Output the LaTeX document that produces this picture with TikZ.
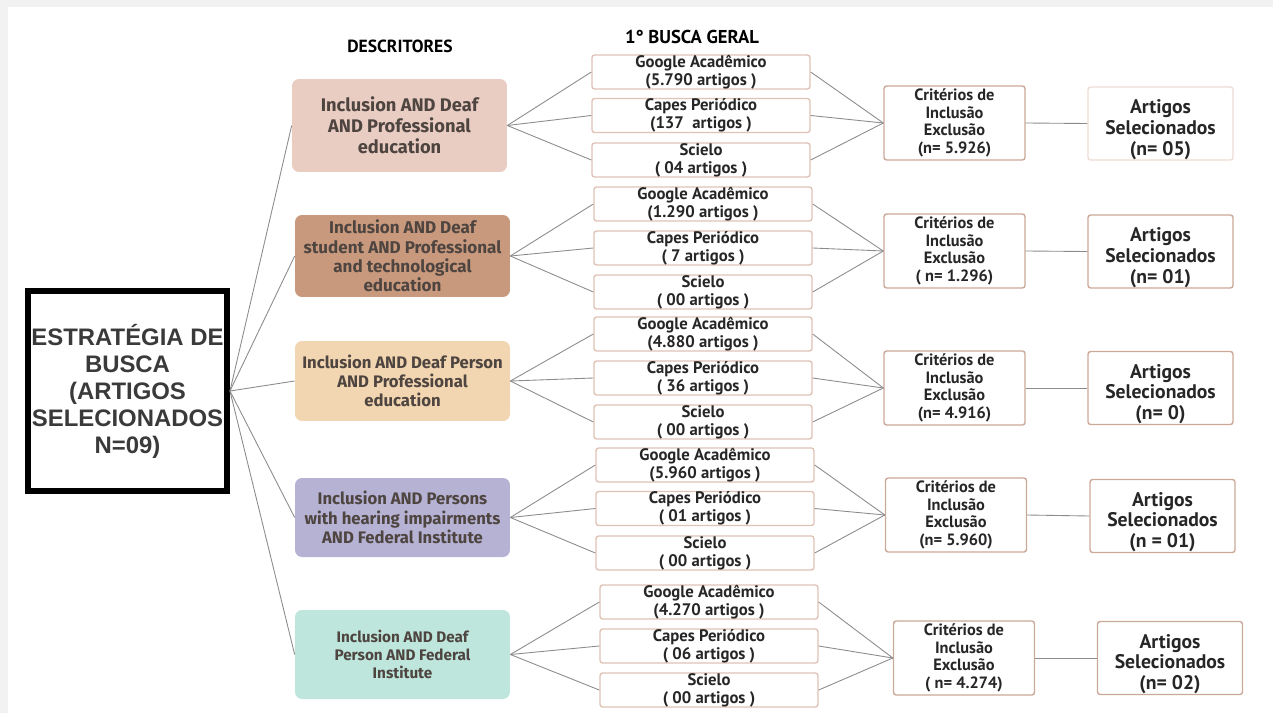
\documentclass[tikz,border=0pt]{standalone}
\usepackage{fontspec}
\setmainfont{Fira Sans}
\newfontfamily\boxfont{PT Sans}
\newfontfamily\capafont{Liberation Sans}

\definecolor{fundo}{RGB}{242,242,242}
\definecolor{linha}{RGB}{140,140,140}
\definecolor{borda}{RGB}{224,194,183}
\definecolor{bordacrit}{RGB}{203,168,152}
\definecolor{descA}{RGB}{233,205,194}
\definecolor{descB}{RGB}{201,153,126}
\definecolor{descC}{RGB}{242,214,177}
\definecolor{descD}{RGB}{181,178,212}
\definecolor{descE}{RGB}{190,230,220}
\definecolor{textodesc}{RGB}{78,68,64}
\definecolor{textocapa}{RGB}{58,58,58}

\begin{document}
\begin{tikzpicture}[x=0.02cm, y=-0.02cm,
    base/.style={draw=borda, line width=0.8pt, fill=white, rounded corners=1.5pt,
      align=center, inner sep=0pt, text=black!85},
    fonte/.style={base, minimum width=4.36cm, minimum height=0.68cm,
      font=\boxfont\bfseries\fontsize{9.5}{10.2}\selectfont},
    crit/.style={base, draw=bordacrit, minimum width=2.82cm, minimum height=1.48cm,
      font=\boxfont\bfseries\fontsize{9.3}{10.1}\selectfont},
    artigo/.style={base, draw=bordacrit, minimum width=2.9cm, minimum height=1.46cm},
    textoart/.style={align=center, inner sep=0pt, text=black!85,
      font=\boxfont\bfseries\fontsize{11.2}{11.7}\selectfont},
    desc/.style={rounded corners=4pt, align=center, inner sep=0pt,
      minimum width=4.3cm, text=textodesc},
    liga/.style={draw=linha, line width=0.5pt}]

  % fundo e moldura
  \fill[fundo] (0,0) rectangle (1273,713);
  \fill[white] (8,7) rectangle (1273,713);

  % caixa principal
  \node[draw=black, line width=3.4pt, minimum width=3.98cm, minimum height=4cm,
    inner sep=0pt, align=center, text=textocapa,
    font=\capafont\bfseries\fontsize{13.6}{15.4}\selectfont]
    (capa) at (127.5,391) {ESTRATÉGIA DE\\BUSCA\\(ARTIGOS\\SELECIONADOS\\N=09)};

  % titulos das colunas
  \node[font=\boxfont\bfseries\fontsize{10}{12}\selectfont] (titdesc) at (400,46) {DESCRITORES};
  \node[font=\boxfont\bfseries\fontsize{10.6}{12}\selectfont] (titbusca) at (692,37) {1° BUSCA GERAL};

  % descritores
  \node[desc, fill=descA, minimum height=1.86cm, font=\bfseries\fontsize{10.4}{12}\selectfont]
    (desc1) at (399.5,125.5) {Inclusion AND Deaf\\AND Professional\\education};
  \node[desc, fill=descB, minimum height=1.64cm, font=\bfseries\fontsize{9.7}{11}\selectfont]
    (desc2) at (402.5,256) {Inclusion AND Deaf\\student AND Professional\\and technological\\education};
  \node[desc, fill=descC, minimum height=1.6cm, font=\bfseries\fontsize{9.5}{11}\selectfont]
    (desc3) at (402.5,381) {Inclusion AND Deaf Person\\AND Professional\\education};
  \node[desc, fill=descD, minimum height=1.58cm, font=\bfseries\fontsize{9.5}{11}\selectfont]
    (desc4) at (402.5,517.5) {Inclusion AND Persons\\with hearing impairments\\AND Federal Institute};
  \node[desc, fill=descE, minimum height=1.78cm, font=\bfseries\fontsize{8.7}{10.3}\selectfont]
    (desc5) at (402.5,654.5) {Inclusion AND Deaf\\Person AND Federal\\Institute};

  \foreach \i in {1,...,5}
    \draw[liga] (capa.east) -- (desc\i.west);

  % bases, criterios e artigos selecionados
  \foreach \i/\dx/\ya/\yb/\yc/\cx/\cy/\ax/\ay/\ng/\nc/\ns/\nk/\na/\ab in {
      1/701/72/115.5/160/954.5/123/1160.5/123.5/{(5.790 artigos )}/{(137\ \ artigos )}/{( 04 artigos )}/{(n= 5.926)}/{(n= 05)}/borda!55,
      2/703/204/248/292/954.5/251/1160.5/251.5/{(1.290 artigos )}/{( 7 artigos )}/{( 00 artigos )}/{( n= 1.296)}/{(n= 01)}/bordacrit,
      3/703/334/378/422/954.5/388/1160.5/388/{(4.880 artigos )}/{( 36 artigos )}/{( 00 artigos )}/{(n= 4.916)}/{(n= 0)}/bordacrit,
      4/705/465/508.5/553/956/515/1162.5/516/{(5.960 artigos )}/{( 01 artigos )}/{( 00 artigos )}/{(n= 5.960)}/{(n = 01)}/bordacrit,
      5/709/602/646/690/964/658/1170/658/{(4.270 artigos )}/{( 06 artigos )}/{( 00 artigos )}/{( n= 4.274)}/{(n= 02)}/bordacrit} {
    \node[fonte] (g\i) at (\dx,\ya) {Google Acadêmico\\\ng};
    \node[fonte] (c\i) at (\dx,\yb) {Capes Periódico\\\nc};
    \node[fonte] (s\i) at (\dx,\yc) {Scielo\\\ns};
    \node[crit] (crit\i) at (\cx,\cy) {Critérios de\\Inclusão\\Exclusão\\\nk};
    \node[artigo, draw=\ab] (art\i) at (\ax,\ay) {};
    \node[textoart] (txtart\i) at ([yshift=-3.5]art\i.center) {Artigos\\Selecionados\\\na};

    \foreach \b in {g,c,s} {
      \draw[liga] (desc\i.east) -- (\b\i.west);
      \draw[liga] (\b\i.east) -- (crit\i.west);
    }
    \draw[liga] (crit\i.east) -- (art\i.west);
  }
\end{tikzpicture}
\end{document}
